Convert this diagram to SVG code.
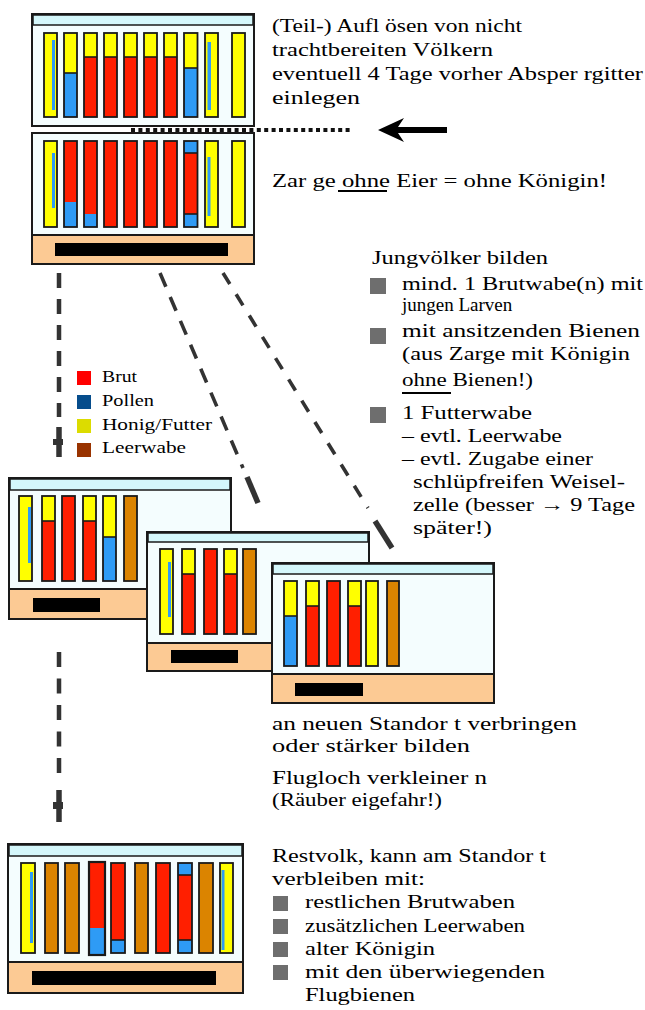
<svg xmlns="http://www.w3.org/2000/svg" width="645" height="1010" viewBox="0 0 645 1010">
  <style>
    .box { fill:#f4fdfe; stroke:#1a1a1a; stroke-width:2 }
    .hdr { fill:#d4f7fb; stroke:#1a1a1a; stroke-width:1.5 }
    .floor { fill:#fcca94; stroke:#1a1a1a; stroke-width:2 }
    .bar { fill:#000 }
    .fr { fill:none; stroke:#1a1a1a; stroke-width:1.8 }
    .sep { stroke:#1a1a1a; stroke-width:1.6 }
    .y { fill:#ffff00 }
    .r { fill:#ff1f00 }
    .b { fill:#2e9bf5 }
    .o { fill:#db8400 }
    .t { font-family:"Liberation Serif","Times New Roman",serif; font-size:19px; fill:#000 }
    .lg { font-family:"Liberation Serif","Times New Roman",serif; font-size:16px; fill:#000 }
    .dash { fill:none; stroke:#333; stroke-width:4.5 }
    .diag { fill:none; stroke:#333; stroke-width:3.6 }
    .tip { fill:none; stroke:#333; stroke-width:5.5 }
    .bullet { fill:#6e6e6e }
  </style>

  <!-- upper brood box (with queen excluder above) -->
  <g id="hive-top">
    <rect class="box" x="32" y="14" width="222" height="112"/>
    <rect class="hdr" x="33" y="15" width="220" height="10"/>
    <rect class="y" x="44" y="33" width="13" height="84"/><rect class="b" x="52" y="40" width="3" height="70"/><rect class="fr" x="44" y="33" width="13" height="84"/>
    <rect class="b" x="64" y="33" width="13" height="84"/><rect class="y" x="64" y="33" width="13" height="40"/><line class="sep" x1="64" y1="73" x2="77" y2="73"/><rect class="fr" x="64" y="33" width="13" height="84"/>
    <rect class="r" x="84" y="33" width="13" height="84"/><rect class="y" x="84" y="33" width="13" height="24"/><line class="sep" x1="84" y1="57" x2="97" y2="57"/><rect class="fr" x="84" y="33" width="13" height="84"/>
    <rect class="r" x="104" y="33" width="13" height="84"/><rect class="y" x="104" y="33" width="13" height="24"/><line class="sep" x1="104" y1="57" x2="117" y2="57"/><rect class="fr" x="104" y="33" width="13" height="84"/>
    <rect class="r" x="124" y="33" width="13" height="84"/><rect class="y" x="124" y="33" width="13" height="24"/><line class="sep" x1="124" y1="57" x2="137" y2="57"/><rect class="fr" x="124" y="33" width="13" height="84"/>
    <rect class="r" x="144" y="33" width="13" height="84"/><rect class="y" x="144" y="33" width="13" height="24"/><line class="sep" x1="144" y1="57" x2="157" y2="57"/><rect class="fr" x="144" y="33" width="13" height="84"/>
    <rect class="r" x="164" y="33" width="13" height="84"/><rect class="y" x="164" y="33" width="13" height="24"/><line class="sep" x1="164" y1="57" x2="177" y2="57"/><rect class="fr" x="164" y="33" width="13" height="84"/>
    <rect class="b" x="184" y="33" width="13.5" height="84"/><rect class="y" x="184" y="33" width="13.5" height="35"/><line class="sep" x1="184" y1="68" x2="197.5" y2="68"/><rect class="fr" x="184" y="33" width="13.5" height="84"/>
    <rect class="y" x="205" y="33" width="13" height="84"/><rect class="b" x="207.5" y="42" width="3.5" height="68"/><rect class="fr" x="205" y="33" width="13" height="84"/>
    <rect class="y" x="232" y="33" width="13" height="84"/><rect class="fr" x="232" y="33" width="13" height="84"/>
  </g>

  <!-- lower brood box with floor -->
  <g id="hive-lower">
    <rect class="box" x="32" y="133" width="222" height="102"/>
    <rect class="floor" x="32" y="235" width="222" height="29"/>
    <rect class="bar" x="55" y="243" width="173" height="13"/>
    <rect class="y" x="44" y="141" width="13" height="86"/><rect class="b" x="52" y="153" width="3" height="55"/><rect class="fr" x="44" y="141" width="13" height="86"/>
    <rect class="b" x="64" y="141" width="13" height="86"/><rect class="r" x="64" y="141" width="13" height="61"/><rect class="fr" x="64" y="141" width="13" height="86"/>
    <rect class="b" x="84" y="141" width="13" height="86"/><rect class="r" x="84" y="141" width="13" height="73"/><rect class="fr" x="84" y="141" width="13" height="86"/>
    <rect class="r" x="104" y="141" width="13" height="86"/><rect class="fr" x="104" y="141" width="13" height="86"/>
    <rect class="r" x="124" y="141" width="13" height="86"/><rect class="fr" x="124" y="141" width="13" height="86"/>
    <rect class="r" x="144" y="141" width="13" height="86"/><rect class="fr" x="144" y="141" width="13" height="86"/>
    <rect class="r" x="164" y="141" width="13" height="86"/><rect class="fr" x="164" y="141" width="13" height="86"/>
    <rect class="b" x="184" y="141" width="13.5" height="86"/><rect class="r" x="184" y="153" width="13.5" height="61"/><line class="sep" x1="184" y1="153" x2="197.5" y2="153"/><line class="sep" x1="184" y1="214" x2="197.5" y2="214"/><rect class="fr" x="184" y="141" width="13.5" height="86"/>
    <rect class="y" x="205" y="141" width="13" height="86"/><rect class="b" x="207.5" y="157" width="3" height="59"/><rect class="fr" x="205" y="141" width="13" height="86"/>
    <rect class="y" x="232" y="141" width="13" height="86"/><rect class="fr" x="232" y="141" width="13" height="86"/>
  </g>

  <!-- young colony A -->
  <g id="hive-a">
    <rect class="box" x="9" y="478" width="222" height="111"/>
    <rect class="hdr" x="10" y="479" width="220" height="11"/>
    <rect class="floor" x="9" y="589" width="222" height="30"/>
    <rect class="bar" x="33" y="598" width="67" height="14"/>
    <rect class="y" x="19" y="496" width="13" height="85"/><rect class="b" x="28" y="507" width="3" height="56"/><rect class="fr" x="19" y="496" width="13" height="85"/>
    <rect class="r" x="42" y="496" width="13" height="85"/><rect class="y" x="42" y="496" width="13" height="25"/><line class="sep" x1="42" y1="521" x2="55" y2="521"/><rect class="fr" x="42" y="496" width="13" height="85"/>
    <rect class="r" x="62" y="496" width="13" height="85"/><rect class="fr" x="62" y="496" width="13" height="85"/>
    <rect class="r" x="83" y="496" width="13" height="85"/><rect class="y" x="83" y="496" width="13" height="25"/><line class="sep" x1="83" y1="521" x2="96" y2="521"/><rect class="fr" x="83" y="496" width="13" height="85"/>
    <rect class="b" x="103" y="496" width="13" height="85"/><rect class="y" x="103" y="496" width="13" height="41"/><line class="sep" x1="103" y1="537" x2="116" y2="537"/><rect class="fr" x="103" y="496" width="13" height="85"/>
    <rect class="o" x="124" y="496" width="13" height="85"/><rect class="fr" x="124" y="496" width="13" height="85"/>
  </g>

  <!-- young colony B -->
  <g id="hive-b">
    <rect class="box" x="147" y="532" width="222" height="111"/>
    <rect class="hdr" x="148" y="533" width="220" height="9"/>
    <rect class="floor" x="147" y="643" width="222" height="28"/>
    <rect class="bar" x="171" y="650" width="67" height="13"/>
    <rect class="y" x="160" y="549" width="13" height="85"/><rect class="b" x="168" y="562" width="3" height="55"/><rect class="fr" x="160" y="549" width="13" height="85"/>
    <rect class="r" x="182" y="549" width="13" height="85"/><rect class="y" x="182" y="549" width="13" height="25"/><line class="sep" x1="182" y1="574" x2="195" y2="574"/><rect class="fr" x="182" y="549" width="13" height="85"/>
    <rect class="r" x="204" y="549" width="13" height="85"/><rect class="fr" x="204" y="549" width="13" height="85"/>
    <rect class="r" x="224" y="549" width="13" height="85"/><rect class="y" x="224" y="549" width="13" height="25"/><line class="sep" x1="224" y1="574" x2="237" y2="574"/><rect class="fr" x="224" y="549" width="13" height="85"/>
    <rect class="o" x="243" y="549" width="13" height="85"/><rect class="fr" x="243" y="549" width="13" height="85"/>
  </g>

  <!-- young colony C -->
  <g id="hive-c">
    <rect class="box" x="272" y="563" width="222" height="111"/>
    <rect class="hdr" x="273" y="564" width="220" height="10"/>
    <rect class="floor" x="272" y="674" width="222" height="29"/>
    <rect class="bar" x="295" y="683" width="68" height="13"/>
    <rect class="b" x="284" y="581" width="13" height="85"/><rect class="y" x="284" y="581" width="13" height="35"/><line class="sep" x1="284" y1="616" x2="297" y2="616"/><rect class="fr" x="284" y="581" width="13" height="85"/>
    <rect class="r" x="306" y="581" width="13" height="85"/><rect class="y" x="306" y="581" width="13" height="25"/><line class="sep" x1="306" y1="606" x2="319" y2="606"/><rect class="fr" x="306" y="581" width="13" height="85"/>
    <rect class="r" x="327" y="581" width="13" height="85"/><rect class="fr" x="327" y="581" width="13" height="85"/>
    <rect class="r" x="348" y="581" width="13" height="85"/><rect class="y" x="348" y="581" width="13" height="25"/><line class="sep" x1="348" y1="606" x2="361" y2="606"/><rect class="fr" x="348" y="581" width="13" height="85"/>
    <rect class="y" x="366" y="581" width="12" height="85"/><rect class="fr" x="366" y="581" width="12" height="85"/>
    <rect class="o" x="387" y="581" width="12" height="85"/><rect class="fr" x="387" y="581" width="12" height="85"/>
  </g>

  <!-- remaining colony -->
  <g id="hive-rest">
    <rect class="box" x="8" y="844" width="235" height="118"/>
    <rect class="hdr" x="9" y="845" width="233" height="11"/>
    <rect class="floor" x="8" y="962" width="235" height="31"/>
    <rect class="bar" x="32" y="971" width="184" height="14"/>
    <rect class="y" x="21" y="863" width="14" height="90"/><rect class="b" x="30" y="872" width="3" height="71"/><rect class="fr" x="21" y="863" width="14" height="90"/>
    <rect class="o" x="45" y="863" width="13" height="90"/><rect class="fr" x="45" y="863" width="13" height="90"/>
    <rect class="o" x="65" y="863" width="14" height="90"/><rect class="fr" x="65" y="863" width="14" height="90"/>
    <rect class="b" x="89" y="862" width="16" height="93"/><rect class="r" x="89" y="862" width="16" height="66"/><rect class="fr" x="89" y="862" width="16" height="93" style="stroke-width:2.2"/>
    <rect class="b" x="111" y="863" width="14" height="90"/><rect class="r" x="111" y="863" width="14" height="77"/><line class="sep" x1="111" y1="940" x2="125" y2="940"/><rect class="fr" x="111" y="863" width="14" height="90"/>
    <rect class="o" x="135" y="863" width="13" height="90"/><rect class="fr" x="135" y="863" width="13" height="90"/>
    <rect class="r" x="156" y="863" width="14" height="90"/><rect class="fr" x="156" y="863" width="14" height="90"/>
    <rect class="b" x="178" y="863" width="14" height="90"/><rect class="r" x="178" y="875" width="14" height="65"/><line class="sep" x1="178" y1="875" x2="192" y2="875"/><line class="sep" x1="178" y1="940" x2="192" y2="940"/><rect class="fr" x="178" y="863" width="14" height="90"/>
    <rect class="o" x="199" y="863" width="14" height="90"/><rect class="fr" x="199" y="863" width="14" height="90"/>
    <rect class="y" x="220" y="863" width="13" height="90"/><rect class="b" x="221.5" y="870" width="3" height="80"/><rect class="fr" x="220" y="863" width="13" height="90"/>
  </g>

  <!-- legend -->
  <g id="legend">
    <rect x="77" y="371" width="14" height="14" fill="#ff0000"/>
    <rect x="77" y="395" width="14" height="14" fill="#064d8c"/>
    <rect x="77" y="419" width="14" height="14" fill="#dcdc00"/>
    <rect x="77" y="443" width="14" height="14" fill="#993300"/>
    <text class="lg" x="102" y="382" textLength="35" lengthAdjust="spacingAndGlyphs">Brut</text>
    <text class="lg" x="102" y="406" textLength="52" lengthAdjust="spacingAndGlyphs">Pollen</text>
    <text class="lg" x="102" y="430" textLength="110" lengthAdjust="spacingAndGlyphs">Honig/Futter</text>
    <text class="lg" x="102" y="453" textLength="84" lengthAdjust="spacingAndGlyphs">Leerwabe</text>
  </g>

  <!-- connectors -->
  <g id="connectors">
    <!-- excluder line and pointer -->
    <line x1="131" y1="130" x2="350" y2="130" stroke="#111" stroke-width="4" stroke-dasharray="4 3.4"/>
    <path d="M378,130 L404,118 L398,127 L447,127 L447,133 L398,133 L404,142 Z" fill="#000"/>
    <!-- split into colonies -->
    <path class="dash" d="M59,273 V417" stroke-dasharray="15 11"/>
    <path class="tip" d="M59,427 V457"/>
    <rect x="53" y="439" width="10" height="6" fill="#333"/>
    <path class="dash" d="M59,652 V781" stroke-dasharray="15 11.5"/>
    <path class="tip" d="M59,790 V822"/>
    <rect x="53" y="802" width="10" height="7" fill="#333"/>
    <path class="diag" d="M160,273 L243,468" stroke-dasharray="15 11"/>
    <path class="tip" d="M247,477 L258,503"/>
    <path class="diag" d="M223,273 L368,508" stroke-dasharray="13 12"/>
    <path class="tip" d="M375,521 L392,548"/>
  </g>

  <!-- captions -->
  <g id="text-top">
    <text class="t" x="272" y="32" textLength="250" lengthAdjust="spacingAndGlyphs">(Teil-) Aufl ösen von nicht</text>
    <text class="t" x="272" y="56" textLength="221" lengthAdjust="spacingAndGlyphs">trachtbereiten Völkern</text>
    <text class="t" x="272" y="80" textLength="371" lengthAdjust="spacingAndGlyphs">eventuell 4 Tage vorher Absper rgitter</text>
    <text class="t" x="272" y="104" textLength="88" lengthAdjust="spacingAndGlyphs">einlegen</text>
    <text class="t" x="272" y="187" textLength="335" lengthAdjust="spacingAndGlyphs">Zar ge ohne Eier = ohne Königin!</text>
    <line x1="338" y1="191" x2="387" y2="191" stroke="#000" stroke-width="2"/>
  </g>

  <g id="text-young">
    <text class="t" x="372" y="264" textLength="176" lengthAdjust="spacingAndGlyphs">Jungvölker bilden</text>
    <rect class="bullet" x="370" y="278" width="16" height="16"/>
    <text class="t" x="402" y="290" textLength="241" lengthAdjust="spacingAndGlyphs">mind. 1 Brutwabe(n) mit</text>
    <text class="t" x="402" y="311">jungen Larven</text>
    <rect class="bullet" x="370" y="328" width="16" height="16"/>
    <text class="t" x="402" y="337" textLength="238" lengthAdjust="spacingAndGlyphs">mit ansitzenden Bienen</text>
    <text class="t" x="402" y="360" textLength="228" lengthAdjust="spacingAndGlyphs">(aus Zarge mit Königin</text>
    <text class="t" x="402" y="386" textLength="131" lengthAdjust="spacingAndGlyphs">ohne Bienen!)</text>
    <line x1="402" y1="393" x2="451" y2="393" stroke="#000" stroke-width="2"/>
    <rect class="bullet" x="370" y="407" width="16" height="16"/>
    <text class="t" x="402" y="419" textLength="130" lengthAdjust="spacingAndGlyphs">1 Futterwabe</text>
    <text class="t" x="402" y="442" textLength="160" lengthAdjust="spacingAndGlyphs">– evtl. Leerwabe</text>
    <text class="t" x="402" y="465" textLength="191" lengthAdjust="spacingAndGlyphs">– evtl. Zugabe einer</text>
    <text class="t" x="413" y="488" textLength="212" lengthAdjust="spacingAndGlyphs">schlüpfreifen Weisel-</text>
    <text class="t" x="413" y="511" textLength="222" lengthAdjust="spacingAndGlyphs">zelle (besser → 9 Tage</text>
    <text class="t" x="413" y="534" textLength="79" lengthAdjust="spacingAndGlyphs">später!)</text>
  </g>

  <g id="text-move">
    <text class="t" x="272" y="730" textLength="305" lengthAdjust="spacingAndGlyphs">an neuen Standor t verbringen</text>
    <text class="t" x="272" y="752" textLength="198" lengthAdjust="spacingAndGlyphs">oder stärker bilden</text>
    <text class="t" x="272" y="784" textLength="215" lengthAdjust="spacingAndGlyphs">Flugloch verkleiner n</text>
    <text class="t" x="272" y="806" textLength="170" lengthAdjust="spacingAndGlyphs">(Räuber eigefahr!)</text>
  </g>

  <g id="text-rest">
    <text class="t" x="272" y="862" textLength="274" lengthAdjust="spacingAndGlyphs">Restvolk, kann am Standor t</text>
    <text class="t" x="272" y="885" textLength="153" lengthAdjust="spacingAndGlyphs">verbleiben mit:</text>
    <rect class="bullet" x="273" y="896" width="15" height="15"/>
    <text class="t" x="305" y="908" textLength="210" lengthAdjust="spacingAndGlyphs">restlichen Brutwaben</text>
    <rect class="bullet" x="273" y="919" width="15" height="15"/>
    <text class="t" x="305" y="932" textLength="220" lengthAdjust="spacingAndGlyphs">zusätzlichen Leerwaben</text>
    <rect class="bullet" x="273" y="942" width="15" height="15"/>
    <text class="t" x="305" y="955" textLength="130" lengthAdjust="spacingAndGlyphs">alter Königin</text>
    <rect class="bullet" x="273" y="965" width="15" height="15"/>
    <text class="t" x="305" y="978" textLength="240" lengthAdjust="spacingAndGlyphs">mit den überwiegenden</text>
    <text class="t" x="305" y="1001" textLength="110" lengthAdjust="spacingAndGlyphs">Flugbienen</text>
  </g>
</svg>
